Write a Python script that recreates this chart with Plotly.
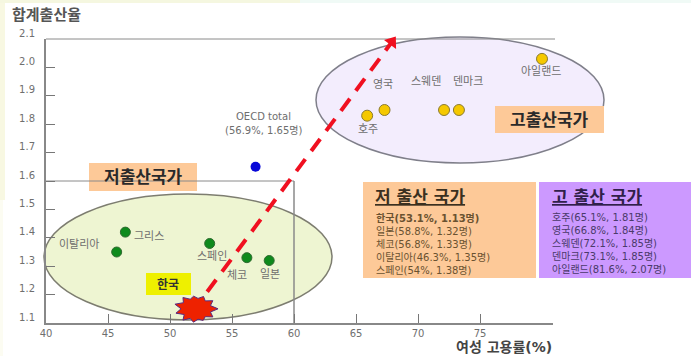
import math
import plotly.graph_objects as go

# Total fertility rate against female employment rate, OECD countries
low_names = ["이탈리아", "그리스", "스페인", "체코", "일본"]
low_employment = [45.7, 46.4, 53.2, 56.2, 58.0]
low_fertility = [1.35, 1.42, 1.38, 1.33, 1.32]

high_names = ["호주", "영국", "스웨덴", "덴마크", "아일랜드"]
high_employment = [65.9, 67.3, 72.1, 73.3, 80.0]
high_fertility = [1.83, 1.85, 1.85, 1.85, 2.03]

oecd_employment = [56.9]
oecd_fertility = [1.65]

korea_employment = 52.1
korea_fertility = 1.15

trend_employment = [53.0, 67.9]
trend_fertility = [1.21, 2.09]

x_ticks = [40, 45, 50, 55, 60, 65, 70, 75]
y_ticks = [1.1, 1.2, 1.3, 1.4, 1.5, 1.6, 1.7, 1.8, 1.9, 2.0, 2.1]

low_panel = ["<b>한국(53.1%, 1.13명)</b>", "일본(58.8%, 1.32명)", "체코(56.8%, 1.33명)",
             "이탈리아(46.3%, 1.35명)", "스페인(54%, 1.38명)"]
high_panel = ["호주(65.1%, 1.81명)", "영국(66.8%, 1.84명)", "스웨덴(72.1%, 1.85명)",
              "덴마크(73.1%, 1.85명)", "아일랜드(81.6%, 2.07명)"]

W, H = 691, 356
LEFT, RIGHT, TOP, BOTTOM = 46, 553, 39, 323
FONT = "DejaVu Sans, Noto Sans CJK KR"
GREY = "#6f6f6f"


# Page pixels to paper fractions, for furniture that sits outside the axes
def fx(p):
    return (p - LEFT) / (RIGHT - LEFT)


def fy(p):
    return (BOTTOM - p) / (BOTTOM - TOP)


def box(x0, y0, x1, y1, fill, layer="below", line=None, kind="rect"):
    return dict(type=kind, xref="paper", yref="paper", x0=fx(x0), x1=fx(x1),
                y0=fy(y0), y1=fy(y1), fillcolor=fill, layer=layer,
                line=line or dict(width=0))


def label(text, x, y, size=11, color="#6e6e6e", anchor="center", bold=False):
    body = f"<b>{text}</b>" if bold else text
    return dict(text=body, xref="paper", yref="paper", x=fx(x), y=fy(y),
                xanchor=anchor, yanchor="middle", align="left" if anchor == "left" else "center",
                showarrow=False, font=dict(family=FONT, size=size, color=color))


# Burst outline around the Korea point, in pixels from its anchor
burst_r = [22, 15, 20, 14, 18, 14, 17, 14, 20, 15, 22, 15, 21, 14, 20, 14, 18, 14, 17, 14, 20, 15]
burst = []
for i, r in enumerate(burst_r):
    a = 2 * math.pi * i / len(burst_r)
    burst.append((r * math.cos(a), 0.75 * r * math.sin(a)))
burst_path = "M" + "L".join(f"{px:.1f},{py:.1f}" for px, py in burst) + "Z"

shapes = [
    # page edge tint
    box(0, 0, 5, 200, "#f8f8e2"),
    box(0, 200, 3, 356, "#fcfcf2"),
    box(0, 0, 300, 3, "#f5f7e0"),
    box(300, 0, 691, 3, "#f0faf6"),
    # country group ellipses
    box(44, 194, 332, 320, "#eef5d2", kind="circle", line=dict(color="#7d7d70", width=1.5)),
    box(316, 37, 604, 163, "#f3edfd", kind="circle", line=dict(color="#7f7f8a", width=1.5)),
    # axis frame extension and guide lines
    box(46, 39, 555, 39, "rgba(0,0,0,0)", line=dict(color="#8a8a8a", width=1), kind="line"),
    dict(type="line", xref="x", yref="y", x0=40, x1=60, y0=1.6, y1=1.6, layer="below",
         line=dict(color="#8a8a8a", width=1)),
    dict(type="line", xref="x", yref="y", x0=60, x1=60, y0=1.1, y1=1.6, layer="below",
         line=dict(color="#8a8a8a", width=1.5)),
    # caption boxes
    box(89, 163, 197, 191, "#fdc998"),
    box(495, 106, 604, 133, "#fdc998"),
    box(146, 273, 191, 295, "#eef000"),
    box(363, 182, 536, 278, "#fdc998"),
    box(539, 182, 691, 278, "#cc99ff"),
    # Korea marker
    dict(type="path", xref="x", yref="y", xsizemode="pixel", ysizemode="pixel",
         xanchor=korea_employment, yanchor=korea_fertility, path=burst_path,
         fillcolor="#ee2200", layer="above", line=dict(color="#5a2a80", width=1)),
]

annotations = [
    label("합계출산율", 46, 15, size=15, color="#555555", bold=True),
    label("여성 고용률(%)", 504, 347, size=14, color="#444444", bold=True),
    label("저출산국가", 143, 177, size=17, color="#2a2a2a", bold=True),
    label("고출산국가", 549, 120, size=17, color="#2a2a2a", bold=True),
    label("한국", 168, 284, size=12, color="#333333", bold=True),
    label("OECD total", 263, 117, size=10),
    label("(56.9%, 1.65명)", 263, 130, size=10),
    label("이탈리아", 79, 244),
    label("그리스", 149, 236),
    label("스페인", 212, 256),
    label("체코", 237, 275),
    label("일본", 270, 274),
    label("호주", 368, 129),
    label("영국", 383, 84),
    label("스웨덴", 426, 81),
    label("덴마크", 468, 81),
    label("아일랜드", 541, 71),
    label("<u>저 출산 국가</u>", 373, 197, size=17, color="#3a3020", anchor="left", bold=True),
    label("<u>고 출산 국가</u>", 550, 197, size=17, color="#30204a", anchor="left", bold=True),
    label("<br>".join(low_panel), 374, 243.5, size=10, color="#6a5230", anchor="left"),
    label("<br>".join(high_panel), 550, 243.5, size=10, color="#4a3a6a", anchor="left"),
]

fig = go.Figure()
fig.add_trace(go.Scatter(
    x=trend_employment, y=trend_fertility, mode="lines", cliponaxis=False,
    line=dict(color="#f01020", width=4, dash="15px,10px"), hoverinfo="skip"))
fig.add_trace(go.Scatter(
    x=trend_employment[1:], y=trend_fertility[1:], mode="markers", cliponaxis=False,
    marker=dict(symbol="triangle-up", size=13, angle=36.6, color="#f01020"), hoverinfo="skip"))
fig.add_trace(go.Scatter(
    x=low_employment, y=low_fertility, mode="markers", text=low_names, cliponaxis=False,
    marker=dict(size=10, color="#0e8a1c", line=dict(color="#2f6a30", width=1))))
fig.add_trace(go.Scatter(
    x=high_employment, y=high_fertility, mode="markers", text=high_names, cliponaxis=False,
    marker=dict(size=11, color="#f5c800", line=dict(color="#8a7a30", width=1))))
fig.add_trace(go.Scatter(
    x=oecd_employment, y=oecd_fertility, mode="markers", cliponaxis=False,
    marker=dict(size=10, color="#0808d8")))

fig.update_layout(
    width=W, height=H, autosize=False, showlegend=False,
    margin=dict(l=LEFT, r=W - RIGHT, t=TOP, b=H - BOTTOM, pad=0),
    paper_bgcolor="white", plot_bgcolor="rgba(0,0,0,0)",
    font=dict(family=FONT, color=GREY),
    shapes=shapes, annotations=annotations,
    xaxis=dict(range=[40, 40 + (RIGHT - LEFT) / 12.4], tickvals=x_ticks,
               ticks="inside", ticklen=9, tickwidth=1, tickcolor="#777777",
               showgrid=False, zeroline=False, showline=True, linecolor="#888888", linewidth=2,
               tickfont=dict(size=10, color=GREY), ticklabelstandoff=0),
    yaxis=dict(range=[1.1, 2.1], tickvals=y_ticks, tickformat=".1f",
               ticks="inside", ticklen=9, tickwidth=1, tickcolor="#777777",
               showgrid=False, zeroline=False, showline=True, linecolor="#888888", linewidth=2,
               tickfont=dict(size=10, color=GREY), ticklabelshift=-6, ticklabelstandoff=7),
)

fig.write_html("out.html")
